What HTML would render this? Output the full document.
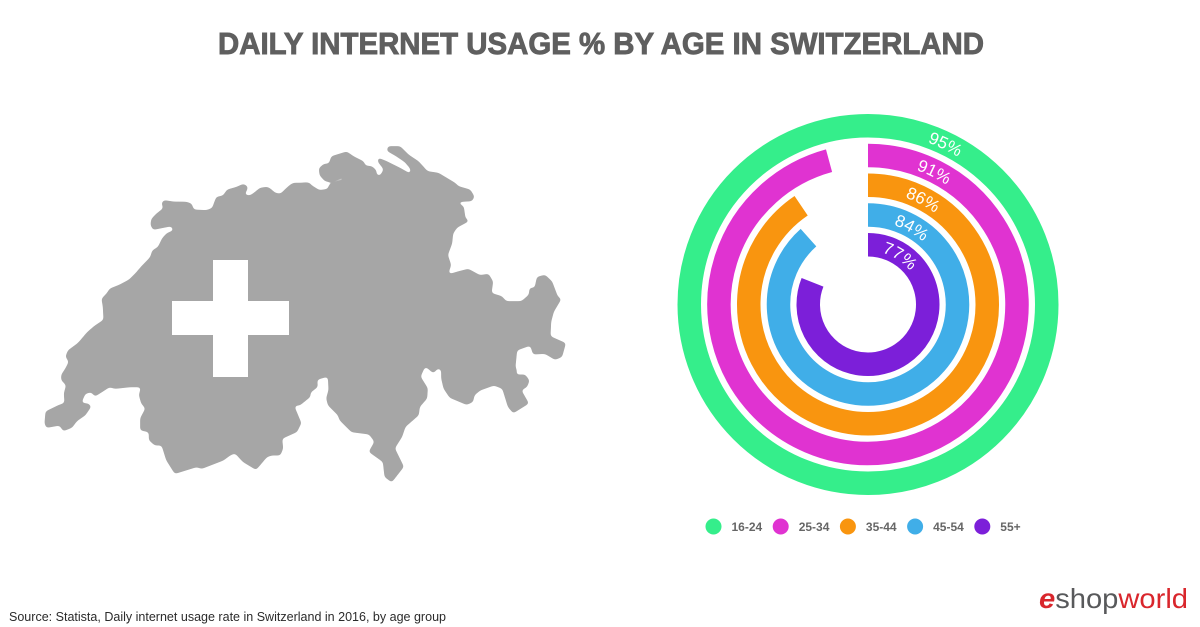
<!DOCTYPE html>
<html lang="en">
<head>
<meta charset="utf-8">
<title>Daily Internet Usage % by Age in Switzerland</title>
<style>
html,body{margin:0;padding:0;background:#fff;}
svg{display:block;font-family:"Liberation Sans",sans-serif;}
</style>
</head>
<body>
<svg id="stage" width="1200" height="627" viewBox="0 0 1200 627" xmlns="http://www.w3.org/2000/svg">
  <defs>
    <filter id="smooth-outline" filterUnits="userSpaceOnUse" x="20" y="130" width="570" height="370" color-interpolation-filters="sRGB">
      <feGaussianBlur in="SourceAlpha" stdDeviation="1.6" result="b"/>
      <feColorMatrix in="b" type="matrix" values="0 0 0 0 0.651  0 0 0 0 0.651  0 0 0 0 0.651  0 0 0 9 -4.3"/>
    </filter>
  </defs>

  <text x="601" y="54" text-anchor="middle" textLength="766" lengthAdjust="spacingAndGlyphs" font-size="31" font-weight="700" fill="#5f5f5f" stroke="#5f5f5f" stroke-width="0.9">DAILY INTERNET USAGE % BY AGE IN SWITZERLAND</text>

  <g fill="#a6a6a6" stroke="#a6a6a6" stroke-width="4" stroke-linejoin="round" filter="url(#smooth-outline)">
    <polygon transform="translate(30,140) scale(0.33333)" points="840,130 790,130 770,145 752,163 735,160 722,148 712,142 690,145 672,160 660,168 640,165 650,150 652,140 640,133 620,142 592,150 580,168 560,172 553,190 548,205 530,212 490,210 484,192 470,187 430,186 402,182 396,190 402,205 380,222 365,238 363,255 370,268 400,262 425,257 433,272 412,280 398,295 385,322 368,332 362,352 335,380 318,400 298,420 270,435 240,447 232,460 216,477 220,500 222,540 195,558 172,578 145,610 115,632 108,650 118,665 108,685 95,705 95,720 110,735 103,760 105,790 85,797 48,815 45,850 50,862 90,855 100,872 125,862 140,842 165,825 182,800 175,792 152,790 165,760 185,755 195,768 220,752 238,740 255,745 300,740 335,740 328,765 335,790 348,805 332,835 332,870 358,875 358,900 375,915 396,915 410,960 435,1000 500,980 515,985 580,960 600,945 615,938 640,965 678,988 710,950 725,945 750,945 758,925 755,895 800,875 812,850 790,798 815,790 840,770"/>
    <polygon transform="translate(290,140) scale(0.33333)" points="0,135 50,128 88,152 115,148 118,135 168,118 160,110 120,125 105,122 90,105 88,85 102,73 118,72 125,50 170,36 190,50 220,65 225,78 245,80 258,92 258,105 270,110 283,88 265,65 265,55 290,65 330,85 365,105 362,85 345,65 315,45 292,32 295,20 330,20 355,45 385,65 412,95 445,100 495,130 505,140 540,150 552,170 545,182 495,185 520,200 525,235 535,243 500,262 488,280 485,310 472,345 482,375 472,405 500,397 535,388 570,407 595,403 608,425 603,460 635,470 648,485 695,485 718,465 720,445 735,445 742,412 765,406 785,425 802,470 812,478 790,515 782,545 780,590 826,610 815,650 795,658 765,640 730,642 722,615 680,630 675,680 680,695 673,705 705,705 717,722 710,740 692,750 715,790 670,818 655,800 638,745 612,735 570,750 552,765 548,785 530,793 480,772 462,745 455,715 455,690 445,682 430,698 405,677 390,710 412,745 410,775 388,800 385,825 345,860 335,890 313,925 340,980 305,1025 285,1010 280,965 238,935 255,905 238,882 185,875 150,840 145,825 115,795 110,775 117,750 115,708 80,718 82,740 50,765 30,795 10,795 33,850 0,878"/>
  </g>
  <path d="M213 260H248V301H289V335H248V377H213V335H172V301H213Z" fill="#fff"/>

  <g id="rings"></g>
  <g id="legend"></g>

  <text x="9" y="621" font-size="12.7" fill="#2b2b2b" textLength="437" lengthAdjust="spacingAndGlyphs">Source: Statista, Daily internet usage rate in Switzerland in 2016, by age group</text>

  <g>
    <text x="1039" y="608" font-size="28" textLength="149" lengthAdjust="spacingAndGlyphs"><tspan fill="#d9262c" font-style="italic" font-weight="700">e</tspan><tspan fill="#58595b">shop</tspan><tspan fill="#d9262c">world</tspan></text>
  </g>
</svg>

<script>
const categories = ['16-24', '25-34', '35-44', '45-54', '55+'];
const usageValues = [95, 91, 86, 84, 77];
const ringColors = ['#35ee8b', '#e033d1', '#f9950f', '#40aee8', '#7c1fd9'];

const SVG_NS = 'http://www.w3.org/2000/svg';
const centerX = 868;
const centerY = 304.5;
const outerMidRadius = 178.75;
const ringStep = 29.75;
const ringWidth = 23.5;
const scaleMax = Math.max.apply(null, usageValues);

function angleScale(value) {
  return value / scaleMax * 360;
}
function radiusScale(index) {
  return outerMidRadius - index * ringStep;
}
function polar(radius, degrees) {
  const a = degrees * Math.PI / 180;
  return [centerX + radius * Math.sin(a), centerY - radius * Math.cos(a)];
}
function arcPath(radius, degrees) {
  const s = polar(radius, 0);
  if (degrees >= 360) {
    const m = polar(radius, 180);
    return 'M' + s[0] + ' ' + s[1] +
      'A' + radius + ' ' + radius + ' 0 0 1 ' + m[0] + ' ' + m[1] +
      'A' + radius + ' ' + radius + ' 0 0 1 ' + s[0] + ' ' + s[1] + 'Z';
  }
  const e = polar(radius, degrees);
  const large = degrees > 180 ? 1 : 0;
  return 'M' + s[0] + ' ' + s[1] + 'A' + radius + ' ' + radius + ' 0 ' + large + ' 1 ' + e[0] + ' ' + e[1];
}

const rings = document.getElementById('rings');
const legend = document.getElementById('legend');

usageValues.forEach(function (value, i) {
  const r = radiusScale(i);
  const arc = document.createElementNS(SVG_NS, 'path');
  arc.setAttribute('d', arcPath(r, angleScale(value)));
  arc.setAttribute('fill', 'none');
  arc.setAttribute('stroke', ringColors[i]);
  arc.setAttribute('stroke-width', ringWidth);
  
  
  rings.appendChild(arc);
});

usageValues.forEach(function (value, i) {
  const r = radiusScale(i);
  const baseR = r - 6;
  const guide = document.createElementNS(SVG_NS, 'path');
  guide.setAttribute('id', 'label-guide-' + i);
  guide.setAttribute('d', arcPath(baseR, 120));
  guide.setAttribute('fill', 'none');
  guide.setAttribute('stroke', 'none');
  
  
  rings.appendChild(guide);

  const labelAngle = 22 + 680 / r;
  const label = document.createElementNS(SVG_NS, 'text');
  label.setAttribute('font-size', '17');
  label.setAttribute('fill', '#ffffff');
  label.setAttribute('text-anchor', 'middle');
  
  
  const tp = document.createElementNS(SVG_NS, 'textPath');
  tp.setAttribute('href', '#label-guide-' + i);
  tp.setAttribute('startOffset', (baseR * labelAngle * Math.PI / 180).toFixed(2));
  tp.textContent = value + '%';
  label.appendChild(tp);
  rings.appendChild(label);
});

const legendStep = 67.2;
categories.forEach(function (name, i) {
  const x = 713.5 + i * legendStep;
  const dot = document.createElementNS(SVG_NS, 'circle');
  dot.setAttribute('cx', x);
  dot.setAttribute('cy', 526.5);
  dot.setAttribute('r', 8);
  dot.setAttribute('fill', ringColors[i]);
  
  
  legend.appendChild(dot);

  const text = document.createElementNS(SVG_NS, 'text');
  text.setAttribute('x', x + 18);
  text.setAttribute('y', 531);
  text.setAttribute('font-size', '12');
  text.setAttribute('font-weight', '700');
  text.setAttribute('fill', '#666666');
  
  
  text.textContent = name;
  legend.appendChild(text);
});
</script>
</body>
</html>
